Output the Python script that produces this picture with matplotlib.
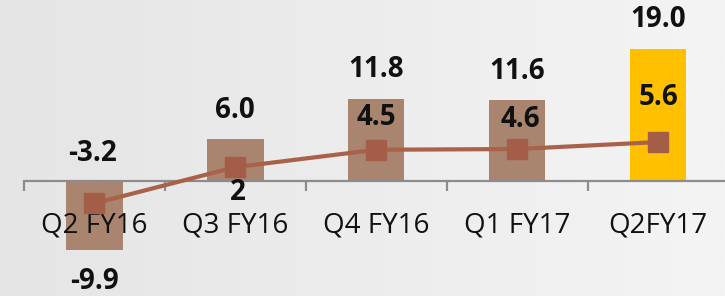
import numpy as np
import matplotlib
matplotlib.use("Agg")
import matplotlib.pyplot as plt

quarters = ["Q2 FY16", "Q3 FY16", "Q4 FY16", "Q1 FY17", "Q2FY17"]
bar_values = [-9.9, 6.0, 11.8, 11.6, 19.0]
line_values = [-3.2, 2, 4.5, 4.6, 5.6]
line_labels = ["-3.2", "2", "4.5", "4.6", "5.6"]

bar_colors = ["#A9846F", "#A9846F", "#A9846F", "#A9846F", "#FFC000"]
line_color = "#A9614A"
# label offsets in pixels (dx, dy) relative to each line point
line_label_offsets = [(-2, 50), (3, -25), (0, 32), (3, 30), (0, 45)]

plt.rcParams["font.family"] = ["Open Sans", "DejaVu Sans"]

fig = plt.figure(figsize=(7.25, 2.96), dpi=100)

# soft horizontal gradient background
bg = fig.add_axes([0, 0, 1, 1])
grad = np.linspace(0, 1, 256).reshape(1, -1)
bg.imshow(grad, aspect="auto", cmap=matplotlib.colors.LinearSegmentedColormap.from_list(
    "bg", ["#E5E5E5", "#F4F4F4"]), extent=[0, 1, 0, 1])
bg.axis("off")

ax = fig.add_axes([0, 0, 1, 1])
ax.patch.set_alpha(0)
ax.set_axisbelow(False)

x = np.arange(len(quarters))
ax.bar(x, bar_values, width=0.4, color=bar_colors, zorder=2)
ax.plot(x, line_values, color=line_color, linewidth=3, marker="s",
        markersize=14.5, markerfacecolor="#A45E48", markeredgecolor="#A45E48", zorder=3)

for xi, v in zip(x, bar_values):
    dy = 29 if v >= 0 else -31
    ax.annotate(f"{v:.1f}", (xi, v), xytext=(0, dy), textcoords="offset pixels",
                ha="center", va="center", fontsize=20, fontweight="bold", color="#111111", zorder=4)

for xi, v, lab, (dx, dy) in zip(x, line_values, line_labels, line_label_offsets):
    ax.annotate(lab, (xi, v), xytext=(dx, dy), textcoords="offset pixels",
                ha="center", va="center", fontsize=20, fontweight="bold", color="#111111", zorder=4)

ax.set_xlim(-0.67, 4.475)
ax.set_ylim(-16.5, 26.0)

for s in ["top", "right", "left"]:
    ax.spines[s].set_visible(False)
ax.spines["bottom"].set_position(("data", 0))
ax.spines["bottom"].set_color("#8C8C8C")
ax.spines["bottom"].set_linewidth(1.6)
ax.spines["bottom"].set_bounds(-0.5, 4.475)

ax.set_yticks([])
ax.set_xticks(np.arange(-0.5, 4.0, 1.0), minor=False)
ax.set_xticklabels([])
ax.tick_params(axis="x", which="major", direction="out", length=7.5, width=1.6, color="#8C8C8C")
ax.set_xticks(x, minor=True)
ax.set_xticklabels(quarters, minor=True)
ax.tick_params(axis="x", which="minor", length=0, pad=22, labelsize=20, labelcolor="#111111")

fig.savefig("out.png", dpi=100)
